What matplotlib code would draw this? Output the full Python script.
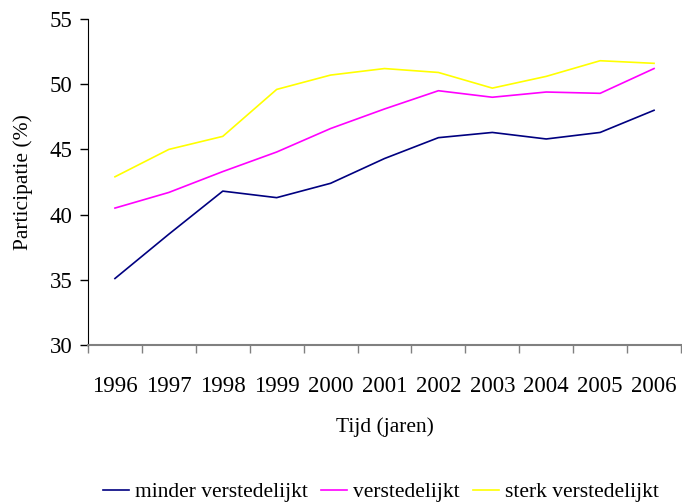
import matplotlib
matplotlib.use("Agg")
import matplotlib.pyplot as plt
import numpy as np

years = ["1996", "1997", "1998", "1999", "2000", "2001", "2002", "2003", "2004", "2005", "2006"]
minder = [35.1, 38.5, 41.8, 41.3, 42.4, 44.3, 45.9, 46.3, 45.8, 46.3, 48.0]
verstedelijkt = [40.5, 41.7, 43.3, 44.8, 46.6, 48.1, 49.5, 49.0, 49.4, 49.3, 51.2]
sterk = [42.9, 45.0, 46.0, 49.6, 50.7, 51.2, 50.9, 49.7, 50.6, 51.8, 51.6]

series_names = ["minder verstedelijkt", "verstedelijkt", "sterk verstedelijkt"]
colors = ["#000080", "#FF00FF", "#FFFF00"]

plt.rcParams['font.family'] = ['Liberation Serif', 'DejaVu Serif']

fig = plt.figure(figsize=(6.82, 5.04), dpi=100)
ax = fig.add_axes([88/682, 1 - 345/504, (681-88)/682, (345-19)/504])

x = np.arange(len(years))
for vals, name, c in zip([minder, verstedelijkt, sterk], series_names, colors):
    ax.plot(x, vals, color=c, lw=1.2, label=name)

ax.set_xlim(-0.5, len(years) - 0.5)
ax.set_ylim(30, 55)
ax.set_yticks([30, 35, 40, 45, 50, 55])
ax.tick_params(axis='y', direction='out', length=6, width=1, labelsize=16.5, pad=5)

ax.set_xticks(x)
ax.set_xticklabels(years)
ax.tick_params(axis='x', which='major', length=0, labelsize=16.5, pad=22)
ax.set_xticks(np.arange(-0.5, len(years) + 0.5, 1), minor=True)
ax.tick_params(axis='x', which='minor', direction='out', length=6, width=1, color='#808080')

for s in ['top', 'right']:
    ax.spines[s].set_visible(False)
ax.spines['bottom'].set_color('#808080')
ax.spines['bottom'].set_linewidth(1.5)
ax.spines['left'].set_color('black')

ax.set_ylabel("Participatie (%)", fontsize=15.5, labelpad=12)
ax.set_xlabel("Tijd (jaren)", fontsize=15.5, labelpad=15)

fig.legend(loc='center', bbox_to_anchor=(381/682, 1 - 492/504), ncol=3, frameon=False,
           fontsize=15.5, handlelength=1.2, handletextpad=0.3, columnspacing=0.6)

fig.savefig("out.png", dpi=100)
